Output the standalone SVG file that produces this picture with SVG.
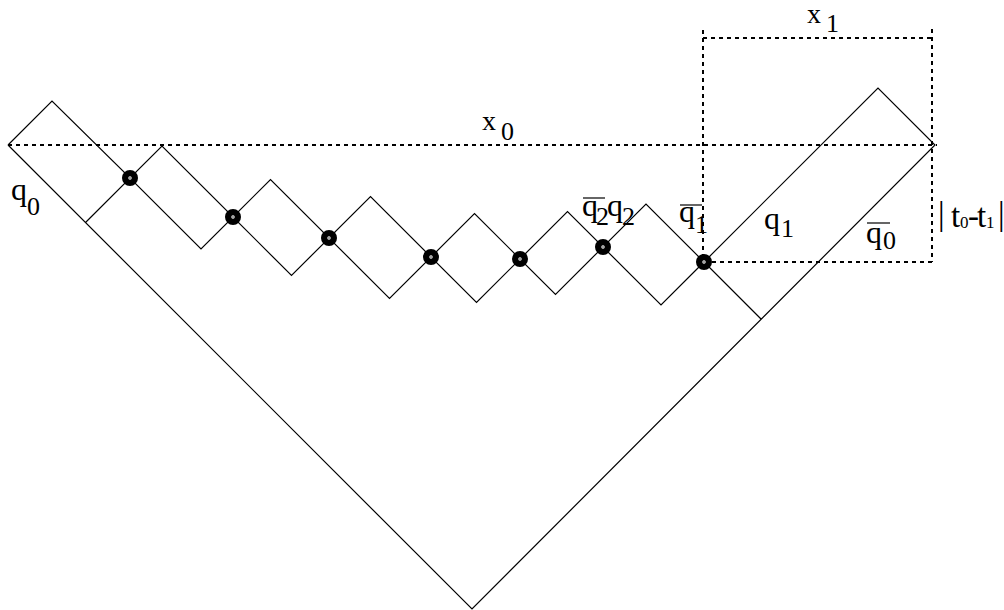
<svg xmlns="http://www.w3.org/2000/svg" width="1004" height="610" viewBox="0 0 1004 610">
<style>
.ln{fill:none;stroke:#000;stroke-width:1.2}
.dash{fill:none;stroke:#000;stroke-width:2;stroke-dasharray:4,4}
.dot{fill:#000}
.hole{fill:#fff}
.m{font-size:32px}
.s{font-size:26px}
.x{font-size:28px}
.t{font-size:33px}
.ts{font-size:17px}
.bar{stroke:#000;stroke-width:1.2}
</style>
<defs>
<g id="nd"><circle r="8" class="dot"/><circle r="1.7" class="hole"/><circle r="0.7" class="dot"/></g>
</defs>
<g id="connectors">
<polyline class="ln" points="8,145 472,609 935,145 878,88 704,262 761.5,319.5"/>
<polyline class="ln" points="8,145 52,101 130,178 162,146 233,217 270.5,179.5 329,238 370.5,196.5 431,257 474.5,213.5 520,259 567.5,211.5 603,247 646,204 704,262"/>
<polyline class="ln" points="85.5,222.5 130,178 201,249 233,217 291.5,275.5 329,238 389.5,298.5 431,257 476.5,302.5 520,259 555.5,294.5 603,247 661,305 704,262"/>
<line class="dash" x1="8" y1="145" x2="937" y2="145"/>
<line class="dash" x1="703" y1="30" x2="703" y2="262"/>
<line class="dash" x1="932" y1="29" x2="932" y2="262"/>
<line class="dash" x1="703" y1="38" x2="932" y2="38"/>
<line class="dash" x1="704" y1="262" x2="932" y2="262"/>
</g>
<g id="n1"><use href="#nd" x="130" y="178"/></g>
<g id="n2"><use href="#nd" x="233" y="217"/></g>
<g id="n3"><use href="#nd" x="329" y="238"/></g>
<g id="n4"><use href="#nd" x="431" y="257"/></g>
<g id="n5"><use href="#nd" x="520" y="259"/></g>
<g id="n6"><use href="#nd" x="603" y="247"/></g>
<g id="n7"><use href="#nd" x="704" y="262"/></g>
<g id="labels" font-family="'Liberation Serif', 'Times New Roman', serif" fill="#000">
<text class="m" x="11" y="200">q</text><text class="s" x="27" y="215">0</text>
<text class="x" x="482" y="130">x</text><text class="s" x="501" y="140">0</text>
<text class="x" x="807" y="23">x</text><text class="s" x="826" y="32">1</text>
<text class="m" x="582" y="216">q</text><text class="s" x="596" y="225">2</text>
<text class="m" x="607" y="216">q</text><text class="s" x="622" y="225">2</text>
<line class="bar" x1="583" y1="198" x2="605" y2="198"/>
<text class="m" x="679" y="222">q</text><text class="s" x="695" y="233">1</text>
<line class="bar" x1="680" y1="205" x2="702" y2="205"/>
<text class="m" x="764" y="229">q</text><text class="s" x="781" y="237">1</text>
<text class="m" x="866" y="243">q</text><text class="s" x="883" y="249">0</text>
<line class="bar" x1="867" y1="223" x2="890" y2="223"/>
<text class="t" x="938" y="225">|</text>
<text class="t" x="951" y="227">t</text><text class="ts" x="960" y="228">0</text>
<text class="t" x="968" y="227">-</text>
<text class="t" x="977" y="227">t</text><text class="ts" x="986" y="228">1</text>
<text class="t" x="998" y="225">|</text>
</g>
</svg>
